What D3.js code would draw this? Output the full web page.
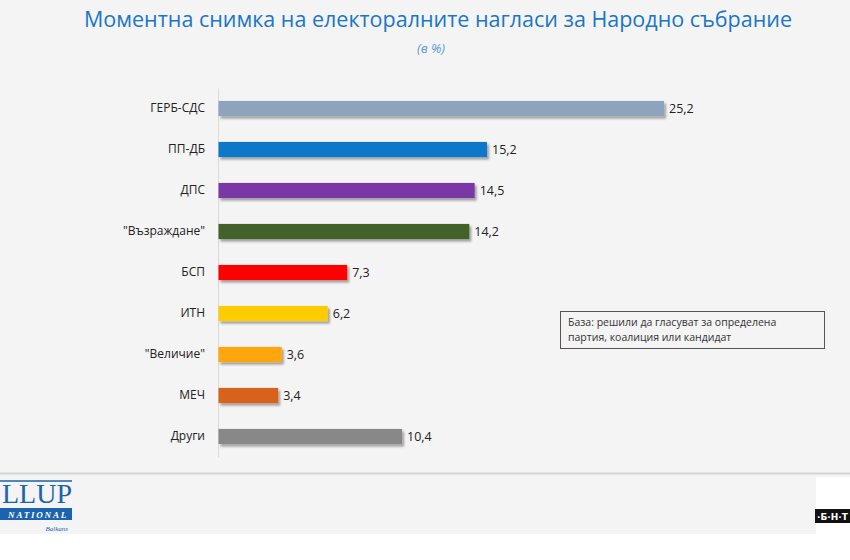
<!DOCTYPE html>
<html><head><meta charset="utf-8">
<script src="https://cdn.jsdelivr.net/npm/d3@7"></script>
<style>html,body{margin:0;padding:0;background:#fff;}svg{display:block;}</style>
</head><body>
<script>
const categories = ["ГЕРБ-СДС","ПП-ДБ","ДПС","\"Възраждане\"","БСП","ИТН","\"Величие\"","МЕЧ","Други"];
const values = [25.2,15.2,14.5,14.2,7.3,6.2,3.6,3.4,10.4];
const valueLabels = ["25,2","15,2","14,5","14,2","7,3","6,2","3,6","3,4","10,4"];
const colors = ["#8ea3bd","#0a78c8","#7a37a7","#436229","#fe0000","#ffcc00","#ffa608","#d6621a","#888888"];
const title = "Моментна снимка на електоралните нагласи за Народно събрание";
const subtitle = "(в %)";
const noteLines = ["База: решили да гласуват за определена","партия, коалиция или кандидат"];

const W = 850, H = 560;
const svg = d3.select("body").append("svg").attr("width", W).attr("height", H);

// backgrounds
svg.append("rect").attr("width", W).attr("height", H).attr("fill", "#fff");
svg.append("rect").attr("width", W).attr("height", 534).attr("fill", "#f4f4f4");
svg.append("rect").attr("x", 816).attr("y", 477).attr("width", 34).attr("height", 83).attr("fill", "#fff");
svg.append("line").attr("x1", 0).attr("x2", W).attr("y1", 473.5).attr("y2", 473.5)
  .attr("stroke", "#d4d4d4").attr("stroke-width", 2);

const defs = svg.append("defs");
const f = defs.append("filter").attr("id", "sh").attr("x", "-5%").attr("y", "-30%").attr("width", "115%").attr("height", "190%");
f.append("feDropShadow").attr("dx", 2).attr("dy", 2.5).attr("stdDeviation", 1.3)
  .attr("flood-color", "#000").attr("flood-opacity", 0.35);

// title
svg.append("text").attr("x", 438).attr("y", 27).attr("text-anchor", "middle")
  .attr("font-family", "Open Sans, sans-serif").attr("font-size", 22)
  .attr("fill", "#1a76c6").attr("textLength", 708).attr("lengthAdjust", "spacingAndGlyphs")
  .text(title);
svg.append("text").attr("x", 431).attr("y", 53).attr("text-anchor", "middle")
  .attr("font-family", "Open Sans, sans-serif").attr("font-size", 13).attr("font-style", "italic")
  .attr("fill", "#5b9bd5").text(subtitle);

// scales
const x = d3.scaleLinear().domain([0, 30]).range([218, 218 + 17.7 * 30]);
const y = d3.scaleBand().domain(categories).range([88, 457]).paddingInner(0.63).paddingOuter(0.315);

const axis = d3.axisLeft(y).tickSize(0).tickPadding(13);
const g = svg.append("g").attr("transform", `translate(${x(0)},0)`).call(axis);
g.select(".domain").attr("stroke", "#d9d9d9").attr("stroke-width", 1);
g.selectAll("text").attr("font-family", "Open Sans, sans-serif").attr("font-size", 12).attr("fill", "#222");

svg.append("g").selectAll("rect").data(categories).join("rect")
  .attr("x", x(0) + 0.5).attr("y", d => y(d))
  .attr("width", (d, i) => x(values[i]) - x(0) - 0.5)
  .attr("height", y.bandwidth())
  .attr("fill", (d, i) => colors[i])
  .attr("filter", "url(#sh)");

svg.append("g").selectAll("text").data(categories).join("text")
  .attr("x", (d, i) => x(values[i]) + 5)
  .attr("y", d => y(d) + y.bandwidth() / 2)
  .attr("dy", "0.36em")
  .attr("font-family", "Open Sans, sans-serif").attr("font-size", 12.5).attr("fill", "#222")
  .text((d, i) => valueLabels[i]);

// note box
svg.append("rect").attr("x", 560.5).attr("y", 311.5).attr("width", 264).attr("height", 37)
  .attr("fill", "none").attr("stroke", "#555").attr("stroke-width", 1);
svg.append("g").selectAll("text").data(noteLines).join("text")
  .attr("x", 568).attr("y", (d, i) => 326 + i * 15)
  .attr("font-family", "Open Sans, sans-serif").attr("font-size", 10.5).attr("fill", "#333")
  .text(d => d);

// Gallup logo (partial)
svg.append("line").attr("x1", 0).attr("x2", 72).attr("y1", 481).attr("y2", 481)
  .attr("stroke", "#1c63ad").attr("stroke-width", 1.5);
svg.append("text").attr("x", 72).attr("y", 503).attr("text-anchor", "end")
  .attr("font-family", "Liberation Serif, serif").attr("font-size", 27).attr("fill", "#1c63ad")
  .attr("textLength", 70).attr("lengthAdjust", "spacingAndGlyphs").text("LLUP");
svg.append("rect").attr("x", 0).attr("y", 508).attr("width", 72).attr("height", 12).attr("fill", "#1c63ad");
svg.append("text").attr("x", 68).attr("y", 518).attr("text-anchor", "end")
  .attr("font-family", "Liberation Serif, serif").attr("font-size", 9).attr("font-style", "italic").attr("font-weight", "bold")
  .attr("fill", "#fff").attr("letter-spacing", 1.8).text("NATIONAL");
svg.append("text").attr("x", 68).attr("y", 531).attr("text-anchor", "end")
  .attr("font-family", "Liberation Serif, serif").attr("font-size", 7).attr("font-style", "italic")
  .attr("fill", "#1c63ad").text("Balkans");

// BNT logo (partial)
svg.append("rect").attr("x", 815).attr("y", 509).attr("width", 35).attr("height", 14).attr("fill", "#111");
svg.append("text").attr("x", 817).attr("y", 520)
  .attr("font-family", "DejaVu Sans, sans-serif").attr("font-size", 9).attr("font-weight", "bold")
  .attr("fill", "#fff").text("·Б·Н·Т");
</script>
</body></html>
